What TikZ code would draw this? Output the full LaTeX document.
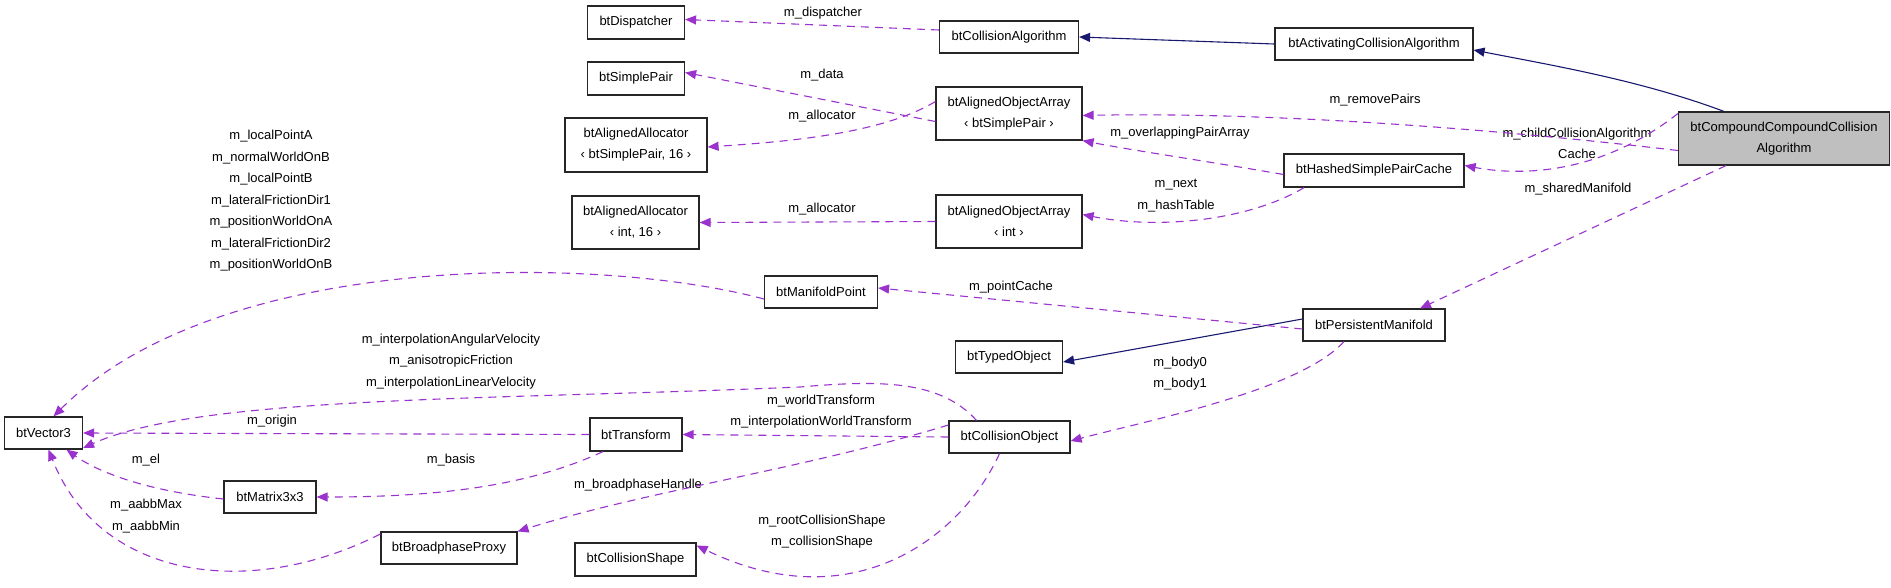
\documentclass[tikz,border=0pt]{standalone}
\usepackage{fontspec}
\setmainfont{Liberation Sans}
\usetikzlibrary{arrows.meta}
\definecolor{dep}{RGB}{154,50,205}
\definecolor{inh}{RGB}{25,25,112}
\begin{document}
\begin{tikzpicture}[x=1pt,y=-1pt,
  cls/.style={draw=black!85,line width=1.2pt,rectangle,inner sep=0pt,align=center,font=\fontsize{13}{21}\selectfont},
  lbl/.style={inner sep=0pt,align=center,font=\fontsize{13}{21.5}\selectfont},
  use/.style={draw=dep,line width=1.1pt,dash pattern=on 8pt off 6pt,-{Triangle[length=11pt,width=9pt,fill=dep]}},
  isa/.style={draw=inh,line width=1.1pt,-{Triangle[length=11pt,width=9pt,fill=inh]}}]
\useasboundingbox (0,0) rectangle (1891,587);
% classes
\node[cls,minimum width=97pt,minimum height=33pt] (disp) at (636,22.5) {btDispatcher};
\node[cls,minimum width=139pt,minimum height=32pt] (calg) at (1009,37) {btCollisionAlgorithm};
\node[cls,minimum width=198pt,minimum height=32pt] (acalg) at (1374,44) {btActivatingCollisionAlgorithm};
\node[cls,minimum width=97pt,minimum height=33pt] (sp) at (636,78.5) {btSimplePair};
\node[cls,minimum width=146pt,minimum height=53pt] (aoasp) at (1009,113.5) {btAlignedObjectArray\\‹ btSimplePair ›};
\node[cls,minimum width=142pt,minimum height=54pt] (aasp) at (636,145) {btAlignedAllocator\\‹ btSimplePair, 16 ›};
\node[cls,minimum width=211pt,minimum height=53pt,fill=black!25] (ccca) at (1784,138.5) {btCompoundCompoundCollision\\Algorithm};
\node[cls,minimum width=180pt,minimum height=33pt] (hspc) at (1374,170.5) {btHashedSimplePairCache};
\node[cls,minimum width=127pt,minimum height=53pt] (aaint) at (635.5,222.5) {btAlignedAllocator\\‹ int, 16 ›};
\node[cls,minimum width=146pt,minimum height=53pt] (aoaint) at (1009,221.5) {btAlignedObjectArray\\‹ int ›};
\node[cls,minimum width=113pt,minimum height=32pt] (mp) at (821,292) {btManifoldPoint};
\node[cls,minimum width=142pt,minimum height=32pt] (pm) at (1374,325) {btPersistentManifold};
\node[cls,minimum width=107pt,minimum height=32pt] (to) at (1009,357) {btTypedObject};
\node[cls,minimum width=78pt,minimum height=32pt] (v3) at (43.5,433) {btVector3};
\node[cls,minimum width=92pt,minimum height=33pt] (tr) at (636,434.5) {btTransform};
\node[cls,minimum width=121pt,minimum height=32pt] (co) at (1009.5,437) {btCollisionObject};
\node[cls,minimum width=92pt,minimum height=32pt] (m33) at (270,497) {btMatrix3x3};
\node[cls,minimum width=136pt,minimum height=32pt] (bp) at (449,548) {btBroadphaseProxy};
\node[cls,minimum width=121pt,minimum height=33pt] (cs) at (635.5,559.5) {btCollisionShape};
% labels
\node[lbl] (l1) at (823,13) {m\_dispatcher};
\node[lbl] (l2) at (822,75) {m\_data};
\node[lbl] (l3) at (822,116) {m\_allocator};
\node[lbl] (l4) at (822,209) {m\_allocator};
\node[lbl] (l5) at (1375,100) {m\_removePairs};
\node[lbl] (l6) at (1180,133) {m\_overlappingPairArray};
\node[lbl] (l7) at (1577,143.5) {m\_childCollisionAlgorithm\\Cache};
\node[lbl] (l8) at (1578,189) {m\_sharedManifold};
\node[lbl] (l9) at (1176,195.5) {m\_next\\m\_hashTable};
\node[lbl] (l10) at (1011,287) {m\_pointCache};
\node[lbl] (l11) at (1180,373.5) {m\_body0\\m\_body1};
\node[lbl] (l12) at (271,201) {m\_localPointA\\m\_normalWorldOnB\\m\_localPointB\\m\_lateralFrictionDir1\\m\_positionWorldOnA\\m\_lateralFrictionDir2\\m\_positionWorldOnB};
\node[lbl] (l13) at (451,361.5) {m\_interpolationAngularVelocity\\m\_anisotropicFriction\\m\_interpolationLinearVelocity};
\node[lbl] (l14) at (272,421) {m\_origin};
\node[lbl] (l15) at (821,411.5) {m\_worldTransform\\m\_interpolationWorldTransform};
\node[lbl] (l16) at (146,460) {m\_el};
\node[lbl] (l17) at (451,460) {m\_basis};
\node[lbl] (l18) at (638,485) {m\_broadphaseHandle};
\node[lbl] (l19) at (146,516) {m\_aabbMax\\m\_aabbMin};
\node[lbl] (l20) at (822,531.5) {m\_rootCollisionShape\\m\_collisionShape};
% inheritance
\draw[isa] (acalg.west) -- (calg.east);
\draw[isa] ([xshift=-60pt]ccca.north) .. controls (1640,80) and (1550,65) .. ([yshift=-6pt]acalg.east);
\draw[isa] ([yshift=6pt]pm.west) -- ([yshift=-5pt]to.east);
% usage
\draw[use] ([yshift=7pt]calg.west) -- ([yshift=3pt]disp.east);
\draw[use] ([yshift=-8pt]aoasp.west) -- ([yshift=6pt]sp.east);
\draw[use] ([yshift=12pt]aoasp.west) .. controls (880,135) and (780,142) .. ([yshift=-2pt]aasp.east);
\draw[use] ([yshift=-12pt]ccca.west) .. controls (1400,118) and (1200,113) .. ([yshift=-2pt]aoasp.east);
\draw[use] ([yshift=-4pt]hspc.west) .. controls (1200,160) and (1130,150) .. (aoasp.south east);
\draw[use] ([yshift=25pt]ccca.west) .. controls (1600,175) and (1520,176) .. ([yshift=5pt]hspc.east);
\draw[use] (aoaint.west) -- (aaint.east);
\draw[use] ([xshift=-70pt]hspc.south) .. controls (1250,220) and (1160,230) .. ([yshift=7pt]aoaint.east);
\draw[use] ([xshift=-58pt]ccca.south) -- ([xshift=46pt]pm.north);
\draw[use] ([yshift=-4pt]pm.west) -- ([yshift=4pt]mp.east);
\draw[use] ([xshift=-30pt]pm.south) .. controls (1300,390) and (1150,420) .. ([yshift=-4pt]co.east);
\draw[use] ([yshift=-7pt]mp.west) .. controls (600,255) and (220,250) .. ([xshift=10pt]v3.north);
\draw[use] ([xshift=-33pt]co.north) .. controls (940,380) and (880,380) .. (800,387) .. controls (500,400) and (200,395) .. ([yshift=-15pt]v3.east);
\draw[use] (tr.west) -- (v3.east);
\draw[use] (co.west) -- (tr.east);
\draw[use] ([xshift=-33pt]tr.south) .. controls (520,490) and (420,497) .. (m33.east);
\draw[use] ([yshift=-2pt]m33.west) .. controls (140,490) and (95,470) .. ([xshift=23pt]v3.south);
\draw[use] ([yshift=12pt]co.west) .. controls (800,470) and (650,490) .. (bp.north east);
\draw[use] ([yshift=14pt]bp.west) .. controls (250,600) and (100,580) .. ([xshift=5pt]v3.south);
\draw[use] ([xshift=-10pt]co.south) .. controls (960,540) and (850,620) .. ([yshift=14pt]cs.east);
\end{tikzpicture}
\end{document}
